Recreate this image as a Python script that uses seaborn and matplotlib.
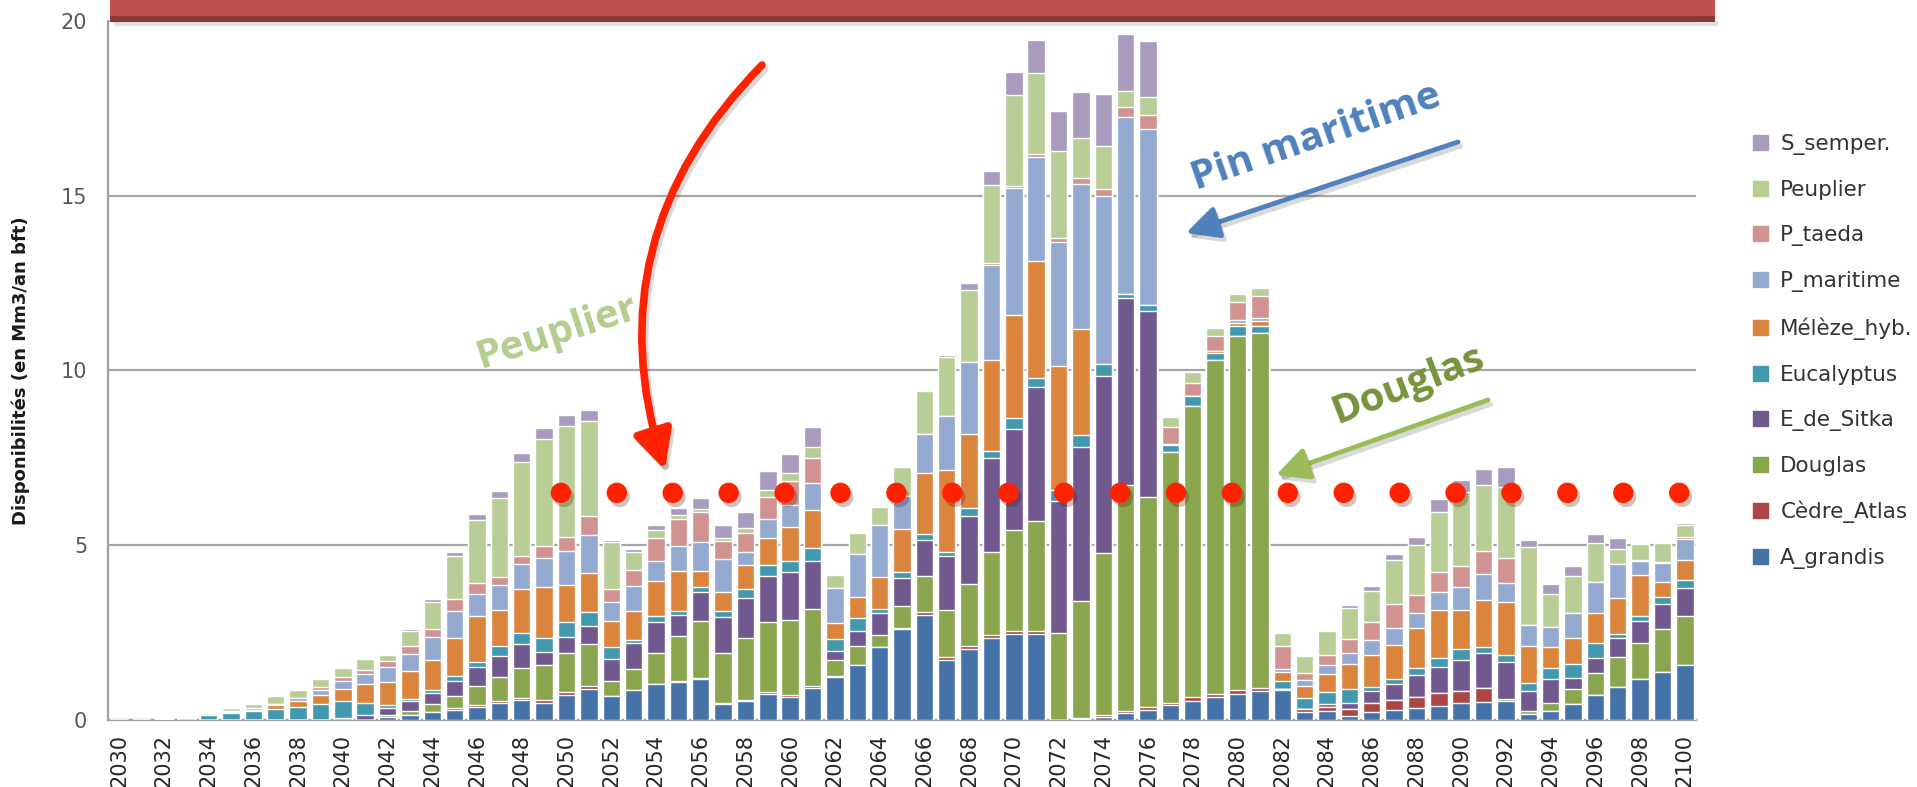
import matplotlib
matplotlib.use("Agg")
import matplotlib.pyplot as plt
import matplotlib.patches as mpatches
import matplotlib.patheffects as pe
import seaborn as sns
import pandas as pd
import numpy as np

# ---- data (Mm3/an bft) ----
years = list(range(2030, 2101))

a_grandis = [0, 0, 0, 0, 0, 0, 0, 0, 0, 0, 0, 0,
             0.08, 0.15, 0.22, 0.29, 0.36, 0.48, 0.57, 0.5, 0.72, 0.9,
             0.69, 0.86, 1.02, 1.09, 1.16, 0.45, 0.54, 0.73, 0.66, 0.92,
             1.24, 1.57, 2.08, 2.6, 3.01, 1.72, 2.03, 2.35, 2.45, 2.45,
             0, 0.03, 0.09, 0.19, 0.29, 0.43, 0.53, 0.65, 0.75, 0.82,
             0.85, 0.23, 0.25, 0.12, 0.23, 0.28, 0.35, 0.41, 0.48, 0.52,
             0.55, 0.16, 0.27, 0.46, 0.71, 0.94, 1.16, 1.37, 1.56]
cedre_atlas = [0, 0, 0, 0, 0, 0, 0, 0, 0, 0, 0, 0,
               0, 0, 0, 0.04, 0.06, 0.06, 0.07, 0.08, 0.07, 0.07,
               0, 0, 0, 0.04, 0.04, 0.03, 0.04, 0.06, 0.05, 0.06,
               0.03, 0, 0, 0.03, 0.07, 0.07, 0.08, 0.07, 0.09, 0.09,
               0, 0.04, 0.04, 0.06, 0.07, 0.07, 0.12, 0.1, 0.1, 0.1,
               0.04, 0.08, 0.11, 0.2, 0.27, 0.29, 0.3, 0.35, 0.35, 0.4,
               0, 0, 0, 0, 0, 0, 0, 0, 0]
douglas = [0, 0, 0, 0, 0, 0, 0, 0, 0, 0, 0, 0,
           0.07, 0.1, 0.23, 0.37, 0.56, 0.7, 0.84, 1.0, 1.13, 1.21,
           0.43, 0.59, 0.89, 1.28, 1.63, 1.45, 1.77, 2.01, 2.16, 2.2,
           0.44, 0.56, 0.36, 0.63, 1.03, 1.35, 1.78, 2.38, 2.91, 3.15,
           2.49, 3.34, 4.66, 6.48, 6.02, 7.17, 8.32, 9.54, 10.13, 10.15,
           0, 0, 0, 0, 0, 0, 0, 0, 0, 0,
           0.04, 0.11, 0.23, 0.43, 0.64, 0.86, 1.05, 1.22, 1.41]
e_de_sitka = [0, 0, 0, 0, 0, 0, 0, 0, 0, 0, 0.06, 0.13,
              0.19, 0.3, 0.33, 0.42, 0.53, 0.58, 0.7, 0.36, 0.46, 0.52,
              0.62, 0.74, 0.9, 0.6, 0.84, 1.02, 1.14, 1.31, 1.37, 1.38,
              0.25, 0.42, 0.62, 0.81, 1.04, 1.54, 1.96, 2.69, 2.88, 3.84,
              3.77, 4.39, 5.04, 5.34, 5.31, 0, 0, 0, 0, 0,
              0, 0, 0.1, 0.17, 0.32, 0.45, 0.63, 0.77, 0.89, 1.0,
              1.08, 0.55, 0.67, 0.32, 0.43, 0.54, 0.61, 0.73, 0.8]
eucalyptus = [0, 0, 0.03, 0.06, 0.13, 0.2, 0.26, 0.32, 0.38, 0.46, 0.48, 0.36,
              0.09, 0.04, 0.08, 0.14, 0.16, 0.29, 0.31, 0.41, 0.43, 0.38,
              0.36, 0.1, 0.17, 0.1, 0.14, 0.18, 0.27, 0.32, 0.31, 0.36,
              0.37, 0.38, 0.12, 0.17, 0.17, 0.13, 0.22, 0.22, 0.32, 0.26,
              0.32, 0.36, 0.36, 0.13, 0.19, 0.2, 0.29, 0.2, 0.29, 0.2,
              0.22, 0.32, 0.35, 0.4, 0.13, 0.16, 0.21, 0.25, 0.32, 0.18,
              0.18, 0.24, 0.32, 0.4, 0.42, 0.11, 0.16, 0.21, 0.24]
meleze_hyb = [0, 0, 0, 0, 0, 0.04, 0, 0.1, 0.15, 0.26, 0.35, 0.53,
              0.67, 0.81, 0.86, 1.09, 1.3, 1.03, 1.26, 1.45, 1.05, 1.13,
              0.73, 0.84, 1.0, 1.16, 0.46, 0.54, 0.67, 0.78, 0.96, 1.08,
              0.44, 0.6, 0.91, 1.23, 1.74, 2.35, 2.12, 2.59, 2.95, 3.35,
              3.54, 3.02, 0, 0, 0, 0, 0, 0.07, 0.09, 0.14,
              0.26, 0.34, 0.52, 0.7, 0.91, 0.98, 1.14, 1.36, 1.12, 1.32,
              1.52, 1.05, 0.59, 0.75, 0.87, 1.04, 1.16, 0.41, 0.56]
p_maritime = [0, 0, 0, 0, 0, 0.03, 0.04, 0.04, 0.1, 0.14, 0.23, 0.31,
              0.42, 0.5, 0.65, 0.78, 0.63, 0.73, 0.7, 0.83, 0.97, 1.09,
              0.55, 0.69, 0.58, 0.7, 0.83, 0.93, 0.38, 0.54, 0.64, 0.78,
              1.0, 1.22, 1.49, 0.93, 1.11, 1.55, 2.05, 2.73, 3.63, 2.98,
              3.57, 4.15, 4.81, 5.04, 5.04, 0.04, 0, 0, 0.09, 0.1,
              0.1, 0.17, 0.25, 0.34, 0.43, 0.48, 0.42, 0.52, 0.64, 0.77,
              0.55, 0.61, 0.59, 0.71, 0.88, 0.98, 0.42, 0.55, 0.61]
p_taeda = [0, 0, 0, 0, 0, 0, 0.03, 0, 0, 0.08, 0.11, 0.1,
           0.17, 0.23, 0.24, 0.32, 0.32, 0.21, 0.24, 0.35, 0.4, 0.55,
           0.38, 0.48, 0.64, 0.79, 0.86, 0.52, 0.55, 0.64, 0.68, 0.72,
           0, 0, 0, 0, 0, 0, 0, 0.04, 0.04, 0.07,
           0.1, 0.19, 0.19, 0.3, 0.39, 0.46, 0.37, 0.42, 0.5, 0.62,
           0.65, 0.21, 0.27, 0.38, 0.5, 0.67, 0.52, 0.58, 0.62, 0.65,
           0.72, 0, 0, 0, 0, 0, 0.03, 0.04, 0.05]
peuplier = [0, 0, 0.03, 0.04, 0.08, 0.07, 0.14, 0.23, 0.22, 0.23, 0.26, 0.31,
            0.17, 0.42, 0.78, 1.25, 1.79, 2.27, 2.7, 3.07, 3.18, 2.7,
            1.32, 0.52, 0.24, 0.11, 0.07, 0.08, 0.13, 0.2, 0.23, 0.31,
            0.39, 0.59, 0.52, 0.83, 1.23, 1.68, 2.06, 2.23, 2.62, 2.33,
            2.48, 1.14, 1.22, 0.46, 0.52, 0.29, 0.33, 0.23, 0.24, 0.24,
            0.37, 0.48, 0.69, 0.89, 0.91, 1.27, 1.43, 1.72, 2.09, 1.88,
            2.04, 2.23, 0.94, 1.06, 1.11, 0.43, 0.45, 0.53, 0.34]
s_semper = [0, 0, 0, 0, 0, 0, 0, 0, 0, 0, 0, 0,
            0.04, 0.04, 0.07, 0.1, 0.19, 0.21, 0.26, 0.31, 0.31, 0.31,
            0.07, 0.08, 0.14, 0.19, 0.31, 0.38, 0.46, 0.53, 0.55, 0.56,
            0, 0, 0, 0, 0, 0.06, 0.21, 0.42, 0.66, 0.94,
            1.15, 1.32, 1.51, 1.63, 1.61, 0, 0, 0, 0, 0,
            0, 0.04, 0.03, 0.08, 0.14, 0.16, 0.24, 0.35, 0.35, 0.47,
            0.56, 0.21, 0.27, 0.27, 0.27, 0.31, 0.03, 0.04, 0.07]

species = ["A_grandis", "Cèdre_Atlas", "Douglas", "E_de_Sitka", "Eucalyptus",
           "Mélèze_hyb.", "P_maritime", "P_taeda", "Peuplier", "S_semper."]
colors = ["#4572A7", "#AA4643", "#89A54E", "#71588F", "#4198AF",
          "#DB843D", "#93A9CF", "#D19392", "#B9CD96", "#A99BBD"]

# red dotted reference level
dot_years = [2049.75, 2052.25, 2054.75, 2057.25, 2059.75, 2062.25, 2064.75,
             2067.25, 2069.75, 2072.25, 2074.75, 2077.25, 2079.75, 2082.25,
             2084.75, 2087.25, 2089.75, 2092.25, 2094.75, 2097.25, 2099.75]
dot_level = [6.5] * len(dot_years)

df = pd.DataFrame({
    "year": [str(y) for y in years],
    "A_grandis": a_grandis, "Cèdre_Atlas": cedre_atlas, "Douglas": douglas,
    "E_de_Sitka": e_de_sitka, "Eucalyptus": eucalyptus, "Mélèze_hyb.": meleze_hyb,
    "P_maritime": p_maritime, "P_taeda": p_taeda, "Peuplier": peuplier,
    "S_semper.": s_semper,
})
cum = df[species].cumsum(axis=1)

W, H = 1917, 787
fig = plt.figure(figsize=(W / 100, H / 100), dpi=100)
sns.set_style("white")
plt.rcParams["font.family"] = ["DejaVu Sans"]

ax = fig.add_axes([108 / W, 67 / H, (1696 - 108) / W, (720 - 21) / H])

# stacked bars: draw cumulative totals from the top layer down
for name, col in zip(species[::-1], colors[::-1]):
    sns.barplot(x=df["year"], y=cum[name], color=col, saturation=1,
                width=0.78, ax=ax, zorder=3)

ax.set_ylim(0, 20)
ax.set_xlim(-0.5, len(years) - 0.5)
ax.set_yticks([0, 5, 10, 15, 20])
ax.yaxis.grid(True, color="#A6A6A6", lw=1.6, zorder=0)
ax.set_axisbelow(True)

# x labels every 2 years, tick marks between categories
ax.set_xticks(range(0, len(years), 2))
ax.set_xticklabels([str(y) for y in years[::2]], rotation=90, fontsize=15,
                   color="#262626")
ax.set_xticks(np.arange(-0.5, len(years), 1), minor=True)
ax.tick_params(axis="x", which="major", length=0, pad=10)
ax.tick_params(axis="x", which="minor", length=7, width=1.5, color="#A0A0A0")
ax.tick_params(axis="y", length=7, width=1.5, color="#A0A0A0",
               labelsize=15, labelcolor="#595959", pad=8)
ax.set_xlabel("")
ax.set_ylabel("Disponibilités (en Mm3/an bft)", fontsize=13,
              fontweight="bold", color="#1A1A1A", labelpad=22)

for s in ["top", "right"]:
    ax.spines[s].set_visible(False)
for s in ["left", "bottom"]:
    ax.spines[s].set_color("#A0A0A0")
    ax.spines[s].set_linewidth(1.6)

# red dots
dots = ax.scatter([y - years[0] for y in dot_years], dot_level, s=215,
                  color="#FF2200", zorder=5, linewidths=0)
dots.set_path_effects([pe.SimplePatchShadow(offset=(2, -3), alpha=0.25), pe.Normal()])

# legend
handles = [mpatches.Patch(color=c, label=n) for n, c in zip(species, colors)][::-1]
fig.legend(handles=handles, loc="upper left",
           bbox_to_anchor=(1734 / W, (H - 115) / H), frameon=False,
           fontsize=15.5, labelspacing=1.16, handlelength=0.7,
           handleheight=0.7, handletextpad=0.55, labelcolor="#333333")

# annotations (figure pixel coordinates, y from the top)
def fpt(x, y):
    return (x / W, (H - y) / H)

def arrow(p0, p1, color, lw, rad=0.0, head="-|>,head_length=0.9,head_width=0.45", scale=22):
    a = ax.annotate("", xy=fpt(*p1), xytext=fpt(*p0), xycoords="figure fraction",
                    textcoords="figure fraction", zorder=6,
                    arrowprops=dict(arrowstyle=head, color=color, lw=lw,
                                    mutation_scale=scale, shrinkA=0, shrinkB=0,
                                    connectionstyle=f"arc3,rad={rad}"))
    a.arrow_patch.set_path_effects([pe.SimpleLineShadow(offset=(2, -3), alpha=0.15),
                                    pe.Normal()])

arrow((762, 65), (665, 470), "#FF2200", 5.5, rad=0.3, scale=26)
arrow((1458, 142), (1186, 233), "#4F81BD", 3.5)
arrow((1488, 400), (1276, 475), "#9BBB59", 3.5)

fig.text(*fpt(557, 333), "Peuplier", fontsize=29, fontweight="bold",
         color="#B5CC8E", rotation=18, ha="center", va="center",
         family=["Open Sans", "DejaVu Sans"])
fig.text(*fpt(1316, 138), "Pin maritime", fontsize=29, fontweight="bold",
         color="#4F81BD", rotation=19, ha="center", va="center",
         family=["Open Sans", "DejaVu Sans"])
fig.text(*fpt(1408, 385), "Douglas", fontsize=29, fontweight="bold",
         color="#77933C", rotation=21, ha="center", va="center",
         family=["Open Sans", "DejaVu Sans"])

# red title banner cut by the top edge
fig.add_artist(mpatches.Rectangle(fpt(114, 26), (1718 - 114) / W, 5 / H,
                                  transform=fig.transFigure, color="#000000",
                                  alpha=0.12, lw=0, zorder=9))
fig.add_artist(mpatches.Rectangle(fpt(110, 22), (1715 - 110) / W, 6 / H,
                                  transform=fig.transFigure, color="#8C3836",
                                  lw=0, zorder=10))
fig.add_artist(mpatches.Rectangle(fpt(110, 16), (1715 - 110) / W, 16 / H,
                                  transform=fig.transFigure, color="#C0504D",
                                  lw=0, zorder=10))

fig.savefig("out.png", dpi=100)
